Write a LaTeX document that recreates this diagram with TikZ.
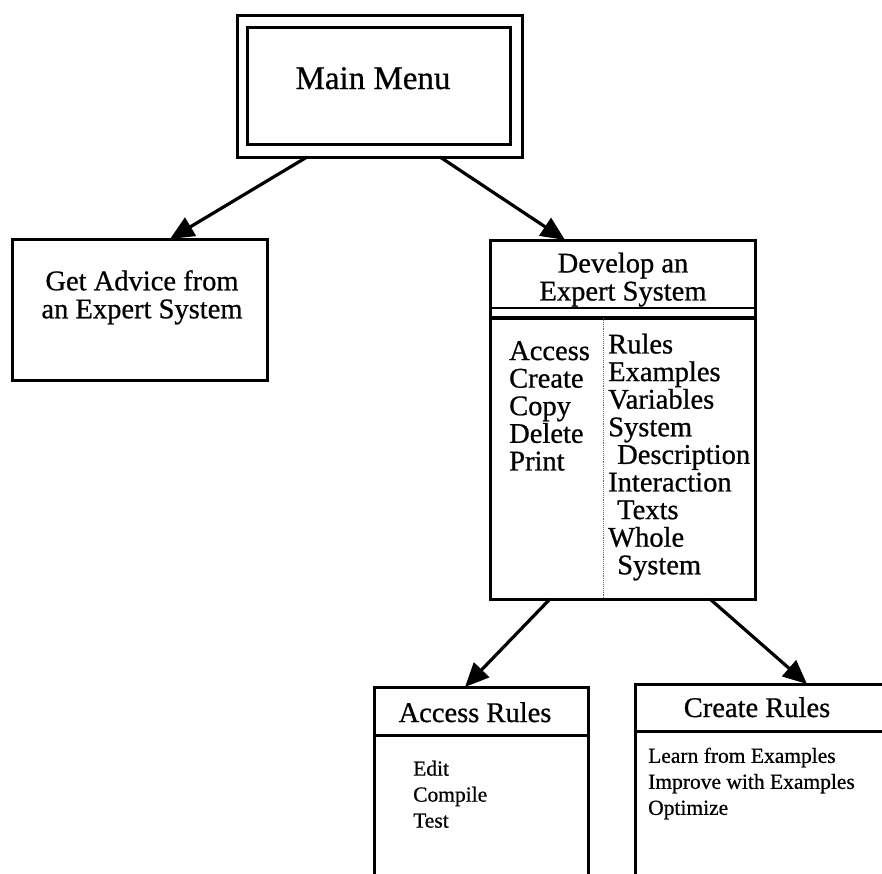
\documentclass[tikz,border=0pt]{standalone}
\usepackage{fontspec}
% slightly heavier strokes, as in the printed chart
\setmainfont{Liberation Serif}[UprightFeatures={FakeBold=0.7}]
\usetikzlibrary{arrows.meta,calc}
\begin{document}
\begin{tikzpicture}[x=1pt,y=-1pt,
  box/.style={draw, rectangle, line width=3pt, inner sep=0pt, outer sep=0pt},
  arr/.style={line width=3.2pt, -{Triangle[length=24pt,width=21pt]}},
  rule/.style={line width=3pt},
  divider/.style={line width=0.9pt, densely dotted, black!60},
  hugetext/.style={font=\fontsize{33}{33}\selectfont, inner sep=0pt},
  bigtext/.style={font=\fontsize{28.5}{27.6}\selectfont, inner sep=0pt, align=left},
  bigcenter/.style={font=\fontsize{28.5}{28}\selectfont, inner sep=0pt, align=center},
  smalltext/.style={font=\fontsize{21.5}{26}\selectfont, inner sep=0pt, align=left}]
\useasboundingbox[fill=white] (0,0) rectangle (882,873);

% Main menu: double frame
\node[box, minimum width=285pt, minimum height=142pt] (main) at (379.5,86) {};
\node[box, minimum width=263pt, minimum height=117pt] (maininner) at (378.5,85.5) {};
\node[hugetext, anchor=base] (mainlabel) at (373,89) {Main Menu};

% Get advice box
\node[box, minimum width=255pt, minimum height=141pt] (adv) at (139.5,309.5) {};
\node[bigcenter, anchor=north] (advlabel) at (142,270) {Get Advice from\\an Expert System};

% Develop an expert system box
\node[box, minimum width=265pt, minimum height=359pt] (dev) at (622.5,419.5) {};
\draw[line width=2pt] ($(dev.north west)+(0,68)$) -- ($(dev.north east)+(0,68)$);
\draw[line width=3.5pt] ($(dev.north west)+(0,78)$) -- ($(dev.north east)+(2,78)$);
\draw[divider] ($(dev.north west)+(113,78)$) -- ($(dev.south west)+(113,0)$);
\node[bigcenter, anchor=north] (devtitle) at (623,252.5) {Develop an\\Expert System};
\node[bigtext, anchor=north west] (devops) at (509,341) {Access\\Create\\Copy\\Delete\\Print};
\node[bigtext, anchor=north west] (devobjs) at (608,333.5)
  {Rules\\Examples\\Variables\\System\\\hspace*{9pt}Description\\Interaction\\\hspace*{9pt}Texts\\Whole\\\hspace*{9pt}System};

% Lower boxes run past the bottom edge
\begin{scope}
\clip (0,0) rectangle (882,873);
\node[box, minimum width=214pt, minimum height=213pt] (acc) at (481,793.5) {};
\draw[rule] ($(acc.north west)+(0,48)$) -- ($(acc.north east)+(0,48)$);
\node[box, minimum width=265pt, minimum height=216pt] (cre) at (767.5,792) {};
\draw[rule] ($(cre.north west)+(0,47)$) -- ($(cre.north east)+(0,47)$);
\end{scope}
\node[bigcenter, anchor=base] (acctitle) at (475,722) {Access Rules};
\node[smalltext, anchor=north west] (accitems) at (413,760.5) {Edit\\Compile\\Test};
\node[bigcenter, anchor=base] (cretitle) at (757,717) {Create Rules};
\node[smalltext, anchor=north west] (creitems) at (648,747.5)
  {Learn from Examples\\Improve with Examples\\Optimize};

% Connectors
\draw[arr] ($(main.south west)+(70,0)$) -- ($(adv.north west)+(158,0)$);
\draw[arr] ($(main.south west)+(203,0)$) -- ($(dev.north west)+(75,0)$);
\draw[arr] ($(dev.south west)+(60,0)$) -- ($(acc.north west)+(91,0)$);
\draw[arr] ($(dev.south west)+(220,0)$) -- ($(cre.north west)+(172,0)$);
\end{tikzpicture}
\end{document}
